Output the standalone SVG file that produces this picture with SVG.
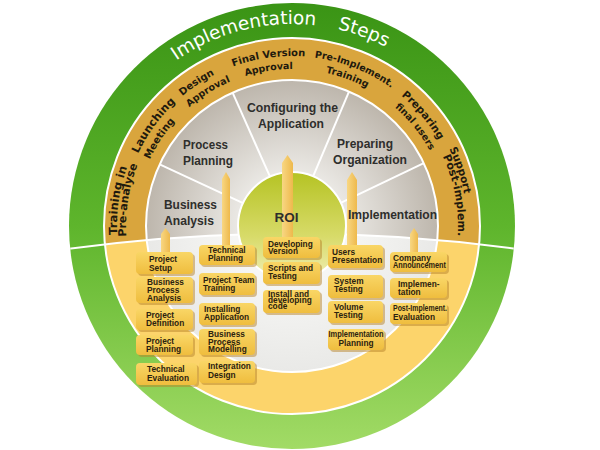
<svg xmlns="http://www.w3.org/2000/svg" width="600" height="450" viewBox="0 0 600 450">
<defs>
<linearGradient id="gGreen" x1="0" y1="0" x2="0" y2="1">
<stop offset="0" stop-color="#3a9415"/>
<stop offset="0.5" stop-color="#5eb52c"/>
<stop offset="1" stop-color="#a2db66"/>
</linearGradient>
<radialGradient id="gGray" cx="292" cy="226" r="146" gradientUnits="userSpaceOnUse">
<stop offset="0.36" stop-color="#ebe9e5"/>
<stop offset="1" stop-color="#bdb6ac"/>
</radialGradient>
<linearGradient id="gRoi" x1="0" y1="0" x2="0" y2="1">
<stop offset="0" stop-color="#b5c323"/>
<stop offset="0.6" stop-color="#d8db6a"/>
<stop offset="1" stop-color="#f0eeb4"/>
</linearGradient>
<radialGradient id="gLow" cx="292" cy="226" r="146" gradientUnits="userSpaceOnUse">
<stop offset="0.4" stop-color="#f6f6f4"/>
<stop offset="1" stop-color="#e9e9e7"/>
</radialGradient>
<linearGradient id="gBox" x1="0" y1="0" x2="0" y2="1">
<stop offset="0" stop-color="#f9d666"/>
<stop offset="1" stop-color="#efbd3e"/>
</linearGradient>
<linearGradient id="gPil" x1="0" y1="0" x2="1" y2="0">
<stop offset="0" stop-color="#f8d783"/>
<stop offset="1" stop-color="#eeb94c"/>
</linearGradient>
<clipPath id="topHalf"><path d="M0,0 H600 V249 H516 Q292,218 68,249 H0 Z"/></clipPath>
<clipPath id="outer"><circle cx="292" cy="226" r="223"/></clipPath>
<path id="tp" d="M90,226 A202,202 0 0 1 494,226"/>
<path id="r175" d="M127.6,285.9 A175,175 0 1 1 456.4,285.9"/>
<path id="r170" d="M132.25,284.14 A170,170 0 1 1 451.75,284.14"/>
<path id="r166" d="M136.0,282.8 A166,166 0 1 1 448.0,282.8"/>
<path id="r157" d="M144.47,279.69 A157,157 0 1 1 439.53,279.69"/>
</defs>
<style>
.box{fill:url(#gBox)}
.shd{fill:#b7842a;opacity:.5}
.bt{font-family:"Liberation Sans",Arial,sans-serif;font-weight:bold;font-size:8.3px;fill:#2b220f}
.ph{font-family:"Liberation Sans",Arial,sans-serif;font-weight:bold;font-size:13.5px;fill:#2e2e2c}
.rt{font-family:"DejaVu Sans",Verdana,sans-serif;font-weight:bold;fill:#1f1a0e}
.ttl{font-family:"DejaVu Sans",Verdana,sans-serif;font-size:18.5px;fill:#ffffff}
.wl{stroke:#ffffff;stroke-width:2;fill:none}
.pil{fill:url(#gPil)}
</style>
<rect width="600" height="450" fill="#ffffff"/>

<g id="background">
<circle cx="292" cy="226" r="223" fill="url(#gGreen)"/>
<circle cx="292" cy="226" r="188" fill="#fcd46b"/>
<circle cx="292" cy="226" r="146" fill="url(#gLow)"/>
<g clip-path="url(#topHalf)">
<circle cx="292" cy="226" r="188" fill="#d9a53d"/>
<circle cx="292" cy="226" r="146" fill="url(#gGray)"/>
<g class="wl">
<line x1="243.1" y1="203.2" x2="159.7" y2="164.3"/>
<line x1="270.0" y1="176.7" x2="232.6" y2="92.6"/>
<line x1="313.1" y1="176.3" x2="349.0" y2="91.6"/>
<line x1="340.7" y1="202.8" x2="423.8" y2="163.1"/>
</g>
</g>
<circle class="wl" cx="292" cy="226" r="188"/>
<circle class="wl" cx="292" cy="226" r="146"/>
<path class="wl" clip-path="url(#outer)" d="M60,250 Q292,217 524,250"/>
<circle cx="292" cy="226" r="54" fill="url(#gRoi)" stroke="#ffffff" stroke-width="2"/>
</g>

<g id="title">
<text class="ttl"><textPath href="#tp" startOffset="194">Implementation</textPath></text>
<text class="ttl"><textPath href="#tp" startOffset="363">Steps</textPath></text>
</g>

<g id="ring-labels" text-anchor="middle">
<text class="rt" font-size="11.5"><textPath href="#r175" startOffset="86.7">Training in</textPath></text>
<text class="rt" font-size="11"><textPath href="#r166" startOffset="84">Pre-analyse</textPath></text>
<text class="rt" font-size="11"><textPath href="#r170" startOffset="166">Launching</textPath></text>
<text class="rt" font-size="10"><textPath href="#r157" startOffset="146.3">Meeting</textPath></text>
<text class="rt" font-size="10"><textPath href="#r170" startOffset="226.4">Design</textPath></text>
<text class="rt" font-size="9.6"><textPath href="#r157" startOffset="213.7">Approval</textPath></text>
<text class="rt" font-size="10"><textPath href="#r170" startOffset="302.6">Final Version</textPath></text>
<text class="rt" font-size="9.5"><textPath href="#r157" startOffset="277.9">Approval</textPath></text>
<text class="rt" font-size="9.5"><textPath href="#r170" startOffset="390.5">Pre-Implement.</textPath></text>
<text class="rt" font-size="9.6"><textPath href="#r157" startOffset="357.3">Training</textPath></text>
<text class="rt" font-size="10.5"><textPath href="#r170" startOffset="473.8">Preparing</textPath></text>
<text class="rt" font-size="9.5"><textPath href="#r157" startOffset="441.2">final users</textPath></text>
<text class="rt" font-size="10.5"><textPath href="#r175" startOffset="554.6">Support</textPath></text>
<text class="rt" font-size="11"><textPath href="#r166" startOffset="548.2">Post-implem.</textPath></text>
</g>

<g id="connectors">
<path class="pil" d="M161,254 V234 L165.5,228 L170,234 V254 Z"/>
<path class="pil" d="M222,247 V179 L226,172 L230,179 V247 Z"/>
<path class="pil" d="M282,240 V163 L287.5,155 L293,163 V240 Z"/>
<path class="pil" d="M347,247 V180 L352,172 L357,180 V247 Z"/>
<path class="pil" d="M410,254 V234 L414,228 L418,234 V254 Z"/>
</g>

<g id="phase-business-analysis"><text class="ph"><tspan x="164" y="209" textLength="53" lengthAdjust="spacingAndGlyphs">Business</tspan><tspan x="164" y="225" textLength="50" lengthAdjust="spacingAndGlyphs">Analysis</tspan></text></g>
<g id="phase-process-planning"><text class="ph"><tspan x="183" y="149" textLength="45" lengthAdjust="spacingAndGlyphs">Process</tspan><tspan x="183" y="165" textLength="50" lengthAdjust="spacingAndGlyphs">Planning</tspan></text></g>
<g id="phase-configuring"><text class="ph"><tspan x="247" y="112" textLength="91" lengthAdjust="spacingAndGlyphs">Configuring the</tspan><tspan x="258" y="128" textLength="66" lengthAdjust="spacingAndGlyphs">Application</tspan></text></g>
<g id="phase-preparing-org"><text class="ph"><tspan x="337" y="148" textLength="56" lengthAdjust="spacingAndGlyphs">Preparing</tspan><tspan x="333" y="164" textLength="74" lengthAdjust="spacingAndGlyphs">Organization</tspan></text></g>
<g id="phase-implementation"><text class="ph" x="348" y="219" textLength="89" lengthAdjust="spacingAndGlyphs">Implementation</text></g>
<g id="roi"><text class="ph" x="274.5" y="222" font-size="16.5">ROI</text></g>

<g id="col1">
<g id="n-project-setup"><rect class="shd" x="138" y="254" width="57" height="22" rx="4"/><rect class="box" x="136" y="252" width="57" height="22" rx="4"/><text class="bt"><tspan x="149" y="262">Project</tspan><tspan x="149" y="271">Setup</tspan></text></g>
<g id="n-bpa"><rect class="shd" x="138" y="279" width="57" height="26" rx="4"/><rect class="box" x="136" y="277" width="57" height="26" rx="4"/><text class="bt"><tspan x="147" y="285">Business</tspan><tspan x="147" y="293">Process</tspan><tspan x="147" y="301">Analysis</tspan></text></g>
<g id="n-project-definition"><rect class="shd" x="138" y="311" width="57" height="21" rx="4"/><rect class="box" x="136" y="309" width="57" height="21" rx="4"/><text class="bt"><tspan x="146" y="318">Project</tspan><tspan x="146" y="326">Definition</tspan></text></g>
<g id="n-project-planning"><rect class="shd" x="138" y="337" width="57" height="20" rx="4"/><rect class="box" x="136" y="335" width="57" height="20" rx="4"/><text class="bt"><tspan x="146" y="344">Project</tspan><tspan x="146" y="352">Planning</tspan></text></g>
<g id="n-technical-evaluation"><rect class="shd" x="138" y="365" width="61" height="22" rx="4"/><rect class="box" x="136" y="363" width="61" height="22" rx="4"/><text class="bt"><tspan x="147" y="372">Technical</tspan><tspan x="147" y="381">Evaluation</tspan></text></g>
</g>

<g id="col2">
<g id="n-technical-planning"><rect class="shd" x="201" y="247" width="56" height="20" rx="4"/><rect class="box" x="199" y="245" width="56" height="20" rx="4"/><text class="bt"><tspan x="208" y="253">Technical</tspan><tspan x="208" y="261">Planning</tspan></text></g>
<g id="n-team-training"><rect class="shd" x="201" y="275" width="56" height="22" rx="4"/><rect class="box" x="199" y="273" width="56" height="22" rx="4"/><text class="bt"><tspan x="203" y="283">Project Team</tspan><tspan x="203" y="291">Training</tspan></text></g>
<g id="n-installing"><rect class="shd" x="201" y="305" width="56" height="22" rx="4"/><rect class="box" x="199" y="303" width="56" height="22" rx="4"/><text class="bt"><tspan x="204" y="312">Installing</tspan><tspan x="204" y="320">Application</tspan></text></g>
<g id="n-bpm"><rect class="shd" x="201" y="331" width="56" height="26" rx="4"/><rect class="box" x="199" y="329" width="56" height="26" rx="4"/><text class="bt"><tspan x="208" y="337">Business</tspan><tspan x="208" y="344.5">Process</tspan><tspan x="208" y="352">Modelling</tspan></text></g>
<g id="n-integration"><rect class="shd" x="201" y="363" width="56" height="22" rx="4"/><rect class="box" x="199" y="361" width="56" height="22" rx="4"/><text class="bt"><tspan x="208" y="369">Integration</tspan><tspan x="208" y="378">Design</tspan></text></g>
</g>

<g id="col3">
<g id="n-developing-version"><rect class="shd" x="265" y="239" width="57" height="21" rx="4"/><rect class="box" x="263" y="237" width="57" height="21" rx="4"/><text class="bt"><tspan x="268" y="246.5">Developing</tspan><tspan x="268" y="254">Version</tspan></text></g>
<g id="n-scripts"><rect class="shd" x="265" y="264" width="57" height="22" rx="4"/><rect class="box" x="263" y="262" width="57" height="22" rx="4"/><text class="bt"><tspan x="268" y="271">Scripts and</tspan><tspan x="268" y="279">Testing</tspan></text></g>
<g id="n-install-code"><rect class="shd" x="265" y="292" width="57" height="23" rx="4"/><rect class="box" x="263" y="290" width="57" height="23" rx="4"/><text class="bt" font-size="7.8"><tspan x="268" y="296.5">Install and</tspan><tspan x="268" y="302.8">developing</tspan><tspan x="268" y="309">code</tspan></text></g>
</g>

<g id="col4">
<g id="n-users-presentation"><rect class="shd" x="330" y="247" width="55" height="23" rx="4"/><rect class="box" x="328" y="245" width="55" height="23" rx="4"/><text class="bt"><tspan x="332" y="255">Users</tspan><tspan x="332" y="263">Presentation</tspan></text></g>
<g id="n-system-testing"><rect class="shd" x="330" y="277" width="55" height="23" rx="4"/><rect class="box" x="328" y="275" width="55" height="23" rx="4"/><text class="bt"><tspan x="334" y="284">System</tspan><tspan x="334" y="292">Testing</tspan></text></g>
<g id="n-volume-testing"><rect class="shd" x="330" y="303" width="55" height="22" rx="4"/><rect class="box" x="328" y="301" width="55" height="22" rx="4"/><text class="bt"><tspan x="334" y="310">Volume</tspan><tspan x="334" y="318">Testing</tspan></text></g>
<g id="n-impl-planning"><rect class="shd" x="330" y="331" width="56" height="21" rx="4"/><rect class="box" x="328" y="329" width="56" height="21" rx="4"/><text class="bt" text-anchor="middle"><tspan x="356" y="337" textLength="55" lengthAdjust="spacingAndGlyphs">Implementation</tspan><tspan x="356" y="345.5">Planning</tspan></text></g>
</g>

<g id="col5">
<g id="n-company-announcement"><rect class="shd" x="392" y="254" width="57" height="20" rx="4"/><rect class="box" x="390" y="252" width="57" height="20" rx="4"/><text class="bt" font-size="7.6"><tspan x="393" y="261">Company</tspan><tspan x="393" y="268" textLength="53" lengthAdjust="spacingAndGlyphs">Announcement</tspan></text></g>
<g id="n-implementation"><rect class="shd" x="392" y="280" width="57" height="20" rx="4"/><rect class="box" x="390" y="278" width="57" height="20" rx="4"/><text class="bt"><tspan x="398" y="287">Implemen-</tspan><tspan x="398" y="295">tation</tspan></text></g>
<g id="n-post-evaluation"><rect class="shd" x="392" y="305" width="57" height="21" rx="4"/><rect class="box" x="390" y="303" width="57" height="21" rx="4"/><text class="bt"><tspan x="393" y="311" textLength="54" lengthAdjust="spacingAndGlyphs">Post-Implement.</tspan><tspan x="393" y="319.5">Evaluation</tspan></text></g>
</g>
</svg>
